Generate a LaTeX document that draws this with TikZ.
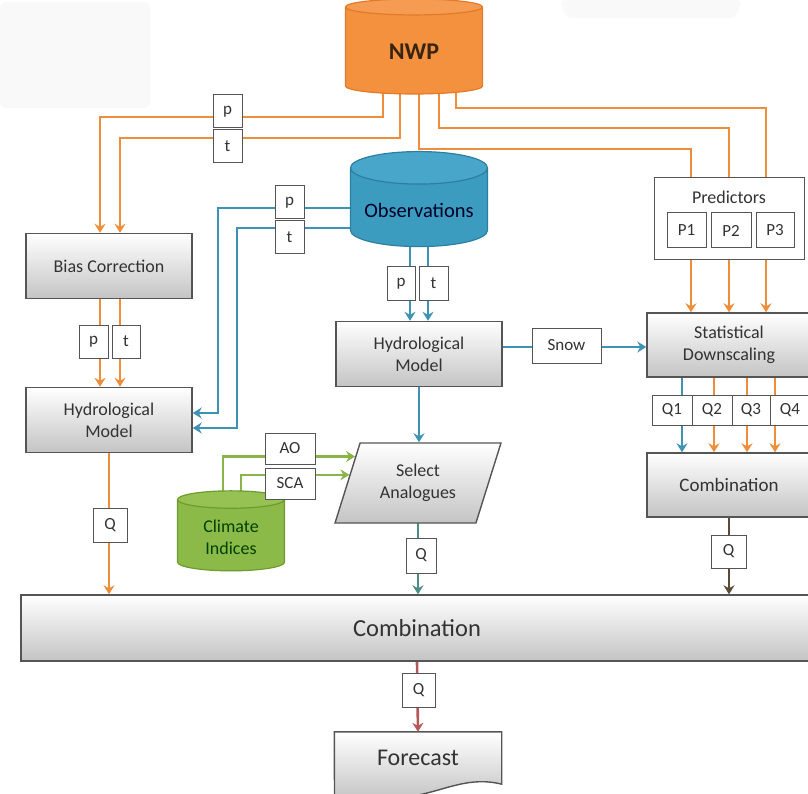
\documentclass[tikz,border=0pt]{standalone}
\usepackage{fontspec}
\setmainfont{Carlito}
\usetikzlibrary{shapes.geometric,arrows.meta,backgrounds,calc}

\definecolor{txtgray}{HTML}{333333}
\definecolor{boxline}{HTML}{555555}
\definecolor{boxbot}{HTML}{C4C4C4}
\definecolor{nwpfill}{HTML}{F3913F}
\definecolor{nwpend}{HTML}{F59C52}
\definecolor{nwpline}{HTML}{E27A28}
\definecolor{nwptext}{HTML}{3A2410}
\definecolor{obsfill}{HTML}{3C9CC0}
\definecolor{obsend}{HTML}{48A6CA}
\definecolor{obsline}{HTML}{2D7FA2}
\definecolor{climfill}{HTML}{8CBA48}
\definecolor{climend}{HTML}{96C254}
\definecolor{climline}{HTML}{6F9A30}
\definecolor{orangeflow}{HTML}{EE8E3A}
\definecolor{blueflow}{HTML}{3E93B5}
\definecolor{greenflow}{HTML}{8AB34A}
\definecolor{tealflow}{HTML}{4D8C88}
\definecolor{brownflow}{HTML}{5B4A35}
\definecolor{redflow}{HTML}{B5585A}

\begin{document}
\begin{tikzpicture}[x=1pt,y=-1pt,
		every node/.style={font=\fontsize{18}{22}\selectfont,text=txtgray},
		box/.style={draw=boxline,line width=1.4pt,top color=white,bottom color=boxbot,minimum width=166pt,minimum height=65pt,align=center},
		tag/.style={draw=boxline,line width=1pt,fill=white,minimum width=29pt,minimum height=33pt,inner sep=0pt,font=\fontsize{17}{19}\selectfont},
		db/.style={cylinder,shape border rotate=90,aspect=0.28,line width=1.2pt,cylinder uses custom fill,align=center},
		flow/.style={line width=2.6pt},
		arr/.style={flow,-{Stealth[length=9pt,width=11pt,inset=3pt]}}
		]
		\useasboundingbox (0,0) rectangle (808,794);

		\node[db,draw=nwpline,cylinder body fill=nwpfill,cylinder end fill=nwpend,minimum width=137pt,minimum height=95pt,font=\fontsize{24}{26}\selectfont\bfseries,text=nwptext] (nwp) at (414,52) {NWP};
		\node[db,draw=obsline,cylinder body fill=obsfill,cylinder end fill=obsend,minimum width=137pt,minimum height=95pt,font=\fontsize{20.5}{22}\selectfont,text=black!85!blue] (obs) at (419,210) {Observations};
		\node[db,draw=climline,cylinder body fill=climfill,cylinder end fill=climend,minimum width=107pt,minimum height=80pt,text=black!75!green] (clim) at (231,537) {Climate\\Indices};

		\node[box] (bias) at (109,266) {Bias Correction};
		\node[box] (hydL) at (109,420) {Hydrological\\Model};
		\node[box] (hydC) at (419,354) {Hydrological\\Model};
		\node[box,minimum width=164pt,minimum height=64pt] (sd) at (729,345) {Statistical\\Downscaling};
		\node[box,minimum width=164pt,minimum height=64pt,font=\fontsize{19}{21}\selectfont] (comb) at (729,485) {Combination};
		\node[box,minimum width=792pt,minimum height=66pt,font=\fontsize{24.5}{26}\selectfont] (big) at (417,628) {Combination};
		\node[box,trapezium,trapezium left angle=68,trapezium right angle=112,trapezium stretches=true,minimum width=166pt,minimum height=80pt] (sel) at (418,483) {Select\\Analogues};
		\node[minimum width=167pt,minimum height=52pt,font=\fontsize{24}{26}\selectfont] (fc) at (418,758) {Forecast};

		\node[draw=boxline,line width=1pt,fill=white,minimum width=150pt,minimum height=82pt] (pred) at (729,219) {};
		\node (predtxt) at (729,197) {Predictors};
		\node[tag,minimum width=39pt,minimum height=35pt] (p1) at (686.5,230.5) {P1};
		\node[tag,minimum width=40pt,minimum height=35pt] (p2) at (731,230.5) {P2};
		\node[tag,minimum width=38pt,minimum height=35pt] (p3) at (775,230.5) {P3};

		\node[tag] (tp1) at (227.5,111.5) {p};
		\node[tag] (tt1) at (227.5,146.5) {t};
		\node[tag] (tp2) at (289.5,202.5) {p};
		\node[tag] (tt2) at (289.5,237.5) {t};
		\node[tag,minimum width=28pt] (tp3) at (401,283.5) {p};
		\node[tag] (tt3) at (433.5,283.5) {t};
		\node[tag] (tp4) at (93.5,341.5) {p};
		\node[tag,minimum width=28pt] (tt4) at (126,341.5) {t};
		\node[tag,minimum width=69pt,minimum height=35pt] (snow) at (566.5,345.5) {Snow};
		\node[tag,minimum width=40pt,minimum height=30pt] (q1) at (672,410) {Q1};
		\node[tag,minimum width=40pt,minimum height=30pt] (q2) at (712,410) {Q2};
		\node[tag,minimum width=38pt,minimum height=30pt] (q3) at (751,410) {Q3};
		\node[tag,minimum width=40pt,minimum height=30pt] (q4) at (790,410) {Q4};
		\node[tag,minimum width=50pt,minimum height=31pt] (tao) at (290,448.5) {AO};
		\node[tag,minimum width=50pt,minimum height=31pt] (tsca) at (290,483.5) {SCA};
		\node[tag,minimum width=34pt,minimum height=34pt] (qL) at (110,525) {Q};
		\node[tag,minimum width=30pt,minimum height=35pt] (qS) at (421,555.5) {Q};
		\node[tag,minimum width=35pt,minimum height=33pt] (qC) at (728.5,551.5) {Q};
		\node[tag,minimum width=33pt,minimum height=34pt] (qB) at (418.5,690) {Q};

		\begin{scope}[on background layer]
			\fill[gray!5,rounded corners=6pt] (0,2) -- (150,2) -- (150,108) -- (0,108) -- cycle;
			\fill[gray!5,rounded corners=6pt] (560,0) -- (742,0) -- (736,18) -- (566,18) -- cycle;
			\filldraw[draw=boxline,line width=1.4pt,top color=white,bottom color=boxbot] (fc.north west) -- (fc.north east) -- (fc.south east) .. controls (470,776) and (445,790) .. (418,795) .. controls (390,800) and (360,800) .. (334.5,798) -- cycle;

			\draw[arr,orangeflow] ([xshift=-31pt]nwp.center) |- (100,117) -- ([xshift=-9pt]bias.north);
			\draw[arr,orangeflow] ([xshift=-14pt]nwp.center) |- (120,138) -- ([xshift=11pt]bias.north);
			\draw[flow,orangeflow] ([xshift=5pt]nwp.center) |- (691,149) -- ([xshift=-38pt]pred.north);
			\draw[flow,orangeflow] ([xshift=25pt]nwp.center) |- (729,128) -- (pred.north);
			\draw[flow,orangeflow] ([xshift=42pt]nwp.center) |- (766,108) -- ([xshift=37pt]pred.north);
			\draw[arr,orangeflow] ([xshift=-9pt]bias.south) -- ([xshift=-9pt]hydL.north);
			\draw[arr,orangeflow] ([xshift=11pt]bias.south) -- ([xshift=11pt]hydL.north);
			\draw[arr,orangeflow] ([xshift=-38pt]pred.south) -- ([xshift=-38pt]sd.north);
			\draw[arr,orangeflow] (pred.south) -- (sd.north);
			\draw[arr,orangeflow] ([xshift=37pt]pred.south) -- ([xshift=37pt]sd.north);
			\draw[arr,blueflow] ([xshift=-47pt]sd.south) -- ([xshift=-47pt]comb.north);
			\draw[arr,orangeflow] ([xshift=-15pt]sd.south) -- ([xshift=-15pt]comb.north);
			\draw[arr,orangeflow] ([xshift=18pt]sd.south) -- ([xshift=18pt]comb.north);
			\draw[arr,orangeflow] ([xshift=46pt]sd.south) -- ([xshift=46pt]comb.north);

			\draw[arr,blueflow] ([yshift=2pt]obs.center) -| (218,413) -- ([yshift=7pt]hydL.east);
			\draw[arr,blueflow] ([yshift=-18pt]obs.center) -| (237,428) -- ([yshift=-8pt]hydL.east);
			\draw[arr,blueflow] ([xshift=-9pt]obs.center) -- ([xshift=-9pt]hydC.north);
			\draw[arr,blueflow] ([xshift=9pt]obs.center) -- ([xshift=9pt]hydC.north);
			\draw[arr,blueflow] ([yshift=7pt]hydC.east) -- ([yshift=-2pt]sd.west);
			\draw[arr,blueflow] (hydC.south) -- (hydC.south |- sel.north);

			\draw[arr,greenflow] ([xshift=-8pt]clim.center) |- ($(sel.top left corner)!0.175!(sel.bottom left corner)$);
			\draw[arr,greenflow] ([xshift=10pt]clim.center) |- ($(sel.top left corner)!0.4!(sel.bottom left corner)$);

			\draw[arr,orangeflow] (hydL.south) -- (hydL.south |- big.north);
			\draw[arr,tealflow] (sel.center) -- (sel.center |- big.north);
			\draw[arr,brownflow] (comb.south) -- (comb.south |- big.north);
			\draw[arr,redflow] (big.south) -- (fc.north);
		\end{scope}
	\end{tikzpicture}
\end{document}
